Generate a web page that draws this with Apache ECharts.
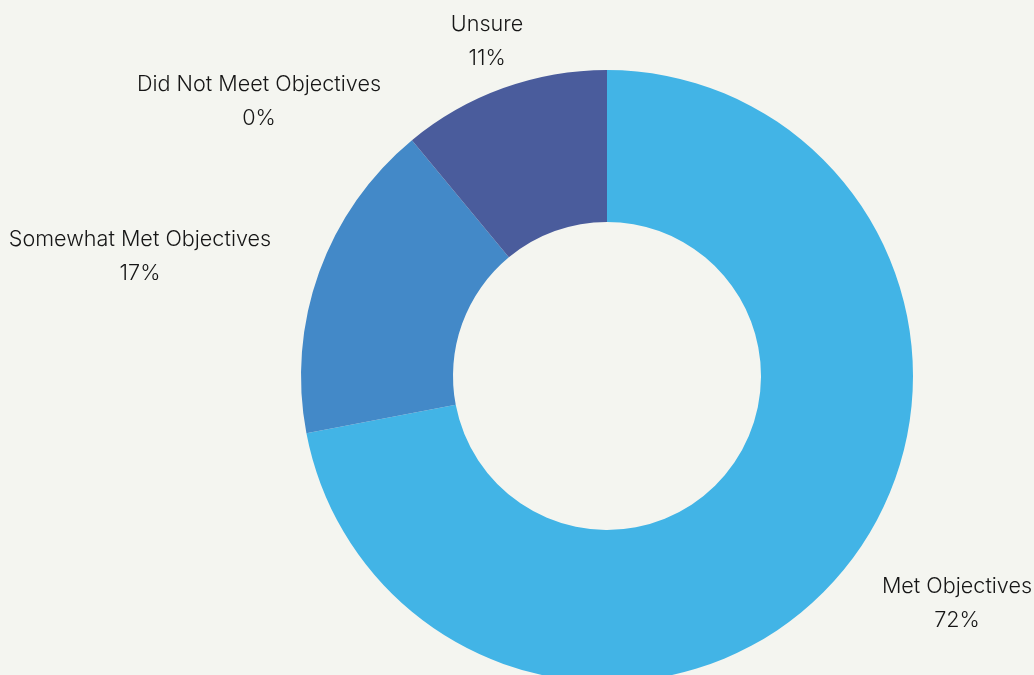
<!DOCTYPE html>
<html>
<head>
<meta charset="UTF-8">
<title>Objectives</title>
<script src="https://cdn.jsdelivr.net/npm/echarts@6/dist/echarts.min.js"></script>
<style>
  html, body { margin: 0; padding: 0; background: #f4f5f0; }
  #chart { width: 1034px; height: 675px; }
</style>
</head>
<body>
<div id="chart"></div>
<script>
// data
var categories = ['Met Objectives', 'Somewhat Met Objectives', 'Did Not Meet Objectives', 'Unsure'];
var percents = [72, 17, 0, 11];
var colors = ['#42b4e6', '#4389c8', '#4a6bb0', '#4a5c9c'];

// label centres (layout only)
var labelPos = [[957, 603], [140, 256], [259, 101], [487, 41]];

var chart = echarts.init(document.getElementById('chart'));

var seriesData = [];
for (var i = 0; i < categories.length; i++) {
    seriesData.push({ name: categories[i], value: percents[i], itemStyle: { color: colors[i] } });
}

var option = {
    backgroundColor: '#f4f5f0',
    animation: false,
    series: [{
        type: 'pie',
        center: [607, 376],
        radius: [154, 306],
        startAngle: 90,
        clockwise: true,
        avoidLabelOverlap: false,
        stillShowZeroSum: true,
        label: {
            show: true,
            position: 'outside',
            formatter: '{b}\n{c}%',
            color: '#161616',
            fontFamily: 'Inter',
            fontWeight: 300,
            fontSize: 21.6,
            lineHeight: 34,
            align: 'center'
        },
        labelLine: { show: false },
        labelLayout: function (params) {
            var p = labelPos[params.dataIndex];
            return { x: p[0], y: p[1], align: 'center', verticalAlign: 'middle' };
        },
        emphasis: { disabled: true },
        data: seriesData
    }]
};

chart.setOption(option);
</script>
</body>
</html>
